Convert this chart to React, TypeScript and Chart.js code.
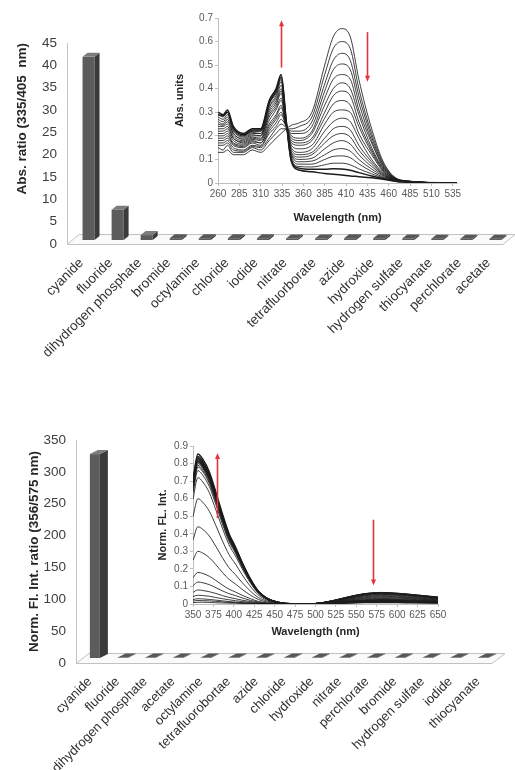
import React, { useEffect, useRef } from 'react';
import { Chart, registerables } from 'chart.js';

Chart.register(...registerables);

const FONT = "'Liberation Sans', Arial, Helvetica, sans-serif";

// ---------------- top panel : absorbance ratio ----------------
const absCategories = ['cyanide', 'fluoride', 'dihydrogen phosphate', 'bromide', 'octylamine', 'chloride', 'iodide', 'nitrate', 'tetrafluorborate', 'azide', 'hydroxide', 'hydrogen sulfate', 'thiocyanate', 'perchlorate', 'acetate'];
const absRatios = [41, 6.8, 1.1, 0.4, 0.4, 0.4, 0.4, 0.35, 0.35, 0.4, 0.4, 0.35, 0.3, 0.3, 0.3];
const absRatioTicks = [0, 5, 10, 15, 20, 25, 30, 35, 40, 45];

const uvWavelengths = [260, 266, 271, 278, 290, 300, 310, 320, 328, 334, 340, 346, 355, 370, 385, 395, 405, 415, 425, 440, 455, 475, 540];
const uvWavelengthTicks = [260, 285, 310, 335, 360, 385, 410, 435, 460, 485, 510, 535];
const uvAbsTicks = [0, 0.1, 0.2, 0.3, 0.4, 0.5, 0.6, 0.7];
const uvSpectra = [
  [0.13, 0.13, 0.14, 0.12, 0.12, 0.14, 0.13, 0.16, 0.19, 0.21, 0.23, 0.245, 0.255, 0.30, 0.50, 0.62, 0.655, 0.62, 0.44, 0.23, 0.08, 0.012, 0],
  [0.15, 0.14, 0.16, 0.13, 0.13, 0.15, 0.14, 0.18, 0.21, 0.23, 0.23, 0.23, 0.24, 0.28, 0.46, 0.57, 0.60, 0.57, 0.40, 0.21, 0.074, 0.011, 0],
  [0.16, 0.16, 0.17, 0.14, 0.135, 0.155, 0.15, 0.19, 0.23, 0.25, 0.235, 0.22, 0.22, 0.26, 0.42, 0.52, 0.55, 0.52, 0.37, 0.195, 0.069, 0.011, 0],
  [0.17, 0.17, 0.18, 0.15, 0.14, 0.16, 0.155, 0.21, 0.24, 0.27, 0.24, 0.21, 0.21, 0.24, 0.39, 0.48, 0.505, 0.48, 0.34, 0.18, 0.064, 0.010, 0],
  [0.18, 0.18, 0.19, 0.16, 0.15, 0.17, 0.16, 0.22, 0.255, 0.29, 0.24, 0.20, 0.19, 0.22, 0.36, 0.44, 0.46, 0.44, 0.31, 0.17, 0.060, 0.010, 0],
  [0.19, 0.19, 0.20, 0.165, 0.155, 0.175, 0.17, 0.23, 0.27, 0.30, 0.24, 0.19, 0.18, 0.21, 0.33, 0.40, 0.425, 0.40, 0.29, 0.15, 0.056, 0.009, 0],
  [0.20, 0.20, 0.21, 0.17, 0.16, 0.18, 0.17, 0.24, 0.28, 0.32, 0.24, 0.18, 0.17, 0.19, 0.30, 0.37, 0.39, 0.37, 0.26, 0.14, 0.052, 0.009, 0],
  [0.21, 0.21, 0.22, 0.18, 0.165, 0.185, 0.18, 0.25, 0.29, 0.33, 0.245, 0.17, 0.16, 0.18, 0.275, 0.335, 0.35, 0.33, 0.24, 0.13, 0.048, 0.009, 0],
  [0.22, 0.22, 0.23, 0.19, 0.17, 0.19, 0.185, 0.265, 0.31, 0.35, 0.25, 0.16, 0.145, 0.16, 0.25, 0.30, 0.31, 0.30, 0.21, 0.12, 0.044, 0.008, 0],
  [0.23, 0.23, 0.24, 0.19, 0.175, 0.195, 0.19, 0.28, 0.32, 0.36, 0.25, 0.15, 0.13, 0.145, 0.22, 0.26, 0.275, 0.26, 0.19, 0.10, 0.040, 0.008, 0],
  [0.24, 0.24, 0.25, 0.20, 0.18, 0.20, 0.20, 0.29, 0.33, 0.38, 0.25, 0.14, 0.12, 0.13, 0.19, 0.23, 0.24, 0.225, 0.16, 0.09, 0.036, 0.007, 0],
  [0.25, 0.245, 0.26, 0.21, 0.185, 0.205, 0.20, 0.30, 0.34, 0.39, 0.25, 0.13, 0.11, 0.12, 0.17, 0.20, 0.21, 0.195, 0.14, 0.08, 0.033, 0.007, 0],
  [0.26, 0.25, 0.27, 0.21, 0.19, 0.21, 0.21, 0.31, 0.35, 0.40, 0.25, 0.125, 0.10, 0.105, 0.145, 0.17, 0.18, 0.165, 0.12, 0.07, 0.030, 0.007, 0],
  [0.27, 0.26, 0.28, 0.22, 0.195, 0.215, 0.21, 0.32, 0.36, 0.415, 0.255, 0.12, 0.09, 0.093, 0.12, 0.14, 0.146, 0.135, 0.10, 0.059, 0.027, 0.006, 0],
  [0.28, 0.27, 0.29, 0.225, 0.20, 0.22, 0.22, 0.325, 0.37, 0.43, 0.255, 0.11, 0.08, 0.08, 0.10, 0.113, 0.115, 0.107, 0.081, 0.049, 0.023, 0.006, 0],
  [0.29, 0.28, 0.30, 0.23, 0.20, 0.22, 0.22, 0.335, 0.38, 0.44, 0.26, 0.10, 0.07, 0.068, 0.077, 0.084, 0.084, 0.077, 0.06, 0.039, 0.020, 0.006, 0],
  [0.29, 0.285, 0.30, 0.235, 0.205, 0.225, 0.225, 0.34, 0.39, 0.45, 0.26, 0.095, 0.063, 0.058, 0.058, 0.06, 0.059, 0.054, 0.044, 0.03, 0.018, 0.005, 0],
  [0.30, 0.29, 0.31, 0.24, 0.21, 0.23, 0.23, 0.35, 0.40, 0.46, 0.26, 0.09, 0.055, 0.048, 0.04, 0.037, 0.034, 0.03, 0.027, 0.022, 0.015, 0.005, 0],
];
const uvArrows = [
  { wavelength: 334, from: 0.49, to: 0.69 },
  { wavelength: 434, from: 0.64, to: 0.43 },
];

// ---------------- bottom panel : fluorescence ratio ----------------
const flCategories = ['cyanide', 'fluoride', 'dihydrogen phosphate', 'acetate', 'octylamine', 'tetrafluorobortae', 'azide', 'chloride', 'hydroxide', 'nitrate', 'perchlorate', 'bromide', 'hydrogen sulfate', 'iodide', 'thiocyanate'];
const flRatios = [320, 0.6, 0.6, 0.6, 0.6, 0.6, 0.6, 0.6, 0.6, 0.6, 0.6, 0.6, 0.6, 0.6, 0.6];
const flRatioTicks = [0, 50, 100, 150, 200, 250, 300, 350];

const flWavelengths = [350, 356, 362, 370, 378, 386, 394, 402, 410, 420, 430, 440, 455, 475, 500, 520, 540, 560, 580, 600, 625, 650];
const flWavelengthTicks = [350, 375, 400, 425, 450, 475, 500, 525, 550, 575, 600, 625, 650];
const flIntTicks = [0, 0.1, 0.2, 0.3, 0.4, 0.5, 0.6, 0.7, 0.8, 0.9];
const flSpectra = [
  [0.008, 0.01, 0.01, 0.009, 0.007, 0.006, 0.005, 0.004, 0.003, 0.002, 0.001, 0, 0, 0, 0.003, 0.018, 0.041, 0.059, 0.066, 0.062, 0.051, 0.04],
  [0.017, 0.02, 0.019, 0.018, 0.015, 0.012, 0.009, 0.008, 0.006, 0.003, 0.002, 0.001, 0, 0, 0.003, 0.018, 0.04, 0.059, 0.065, 0.061, 0.051, 0.039],
  [0.025, 0.03, 0.029, 0.026, 0.022, 0.018, 0.014, 0.011, 0.008, 0.005, 0.003, 0.001, 0, 0, 0.003, 0.018, 0.04, 0.058, 0.064, 0.06, 0.05, 0.038],
  [0.042, 0.05, 0.048, 0.044, 0.037, 0.03, 0.024, 0.019, 0.014, 0.009, 0.004, 0.002, 0.001, 0, 0.003, 0.018, 0.039, 0.057, 0.063, 0.059, 0.049, 0.038],
  [0.066, 0.08, 0.077, 0.07, 0.06, 0.048, 0.038, 0.03, 0.022, 0.014, 0.007, 0.003, 0.001, 0, 0.003, 0.017, 0.038, 0.056, 0.062, 0.058, 0.048, 0.037],
  [0.104, 0.125, 0.121, 0.11, 0.093, 0.075, 0.059, 0.048, 0.035, 0.021, 0.011, 0.005, 0.001, 0, 0.003, 0.017, 0.037, 0.054, 0.06, 0.056, 0.047, 0.036],
  [0.149, 0.18, 0.174, 0.158, 0.134, 0.108, 0.085, 0.068, 0.05, 0.031, 0.015, 0.007, 0.002, 0, 0.003, 0.016, 0.036, 0.052, 0.058, 0.055, 0.045, 0.035],
  [0.249, 0.30, 0.29, 0.264, 0.224, 0.18, 0.141, 0.114, 0.084, 0.051, 0.026, 0.012, 0.003, 0, 0.003, 0.015, 0.034, 0.05, 0.055, 0.052, 0.043, 0.033],
  [0.365, 0.44, 0.425, 0.387, 0.328, 0.264, 0.207, 0.167, 0.123, 0.075, 0.037, 0.018, 0.004, 0, 0.003, 0.015, 0.032, 0.047, 0.052, 0.049, 0.041, 0.031],
  [0.498, 0.60, 0.579, 0.528, 0.447, 0.36, 0.282, 0.228, 0.168, 0.102, 0.051, 0.024, 0.006, 0, 0.002, 0.013, 0.03, 0.043, 0.048, 0.045, 0.037, 0.029],
  [0.598, 0.72, 0.695, 0.634, 0.536, 0.432, 0.338, 0.274, 0.202, 0.122, 0.061, 0.029, 0.007, 0, 0.002, 0.012, 0.027, 0.04, 0.044, 0.041, 0.034, 0.026],
  [0.631, 0.76, 0.733, 0.669, 0.566, 0.456, 0.357, 0.289, 0.213, 0.129, 0.065, 0.03, 0.008, 0, 0.002, 0.011, 0.025, 0.036, 0.04, 0.038, 0.031, 0.024],
  [0.647, 0.78, 0.753, 0.686, 0.581, 0.468, 0.367, 0.296, 0.218, 0.133, 0.066, 0.031, 0.008, 0, 0.002, 0.01, 0.022, 0.032, 0.036, 0.034, 0.028, 0.022],
  [0.656, 0.79, 0.762, 0.695, 0.589, 0.474, 0.371, 0.30, 0.221, 0.134, 0.067, 0.032, 0.008, 0, 0.002, 0.009, 0.02, 0.029, 0.032, 0.03, 0.025, 0.019],
  [0.664, 0.80, 0.772, 0.704, 0.596, 0.48, 0.376, 0.304, 0.224, 0.136, 0.068, 0.032, 0.008, 0, 0.001, 0.008, 0.017, 0.025, 0.028, 0.026, 0.022, 0.017],
  [0.672, 0.81, 0.782, 0.713, 0.603, 0.486, 0.381, 0.308, 0.227, 0.138, 0.069, 0.032, 0.008, 0, 0.001, 0.007, 0.015, 0.022, 0.024, 0.023, 0.019, 0.014],
  [0.681, 0.82, 0.791, 0.722, 0.611, 0.492, 0.385, 0.312, 0.23, 0.139, 0.07, 0.033, 0.008, 0, 0.001, 0.006, 0.012, 0.018, 0.02, 0.019, 0.016, 0.012],
  [0.689, 0.83, 0.801, 0.73, 0.618, 0.498, 0.39, 0.315, 0.232, 0.141, 0.071, 0.033, 0.008, 0, 0.001, 0.004, 0.01, 0.014, 0.016, 0.015, 0.012, 0.01],
  [0.697, 0.84, 0.811, 0.739, 0.626, 0.504, 0.395, 0.319, 0.235, 0.143, 0.071, 0.034, 0.008, 0, 0.001, 0.003, 0.007, 0.011, 0.012, 0.011, 0.009, 0.007],
  [0.71, 0.855, 0.825, 0.752, 0.637, 0.513, 0.402, 0.325, 0.239, 0.145, 0.073, 0.034, 0.009, 0, 0, 0.003, 0.006, 0.008, 0.009, 0.008, 0.007, 0.005],
];
const flArrows = [
  { wavelength: 379, from: 0.49, to: 0.86 },
  { wavelength: 570, from: 0.48, to: 0.105 },
];

// ---------------- helpers ----------------
type Geom = { fdx: number; fdy: number; ox: number; oy: number; bw: number; bdx: number; bdy: number };

function make3DPlugin(g: Geom) {
  return {
    id: 'bars3d',
    beforeDatasetsDraw(chart: any) {
      const { ctx, chartArea: a } = chart;
      ctx.save();
      ctx.lineWidth = 1;
      ctx.strokeStyle = '#c2c2c2';
      ctx.fillStyle = '#fafafa';
      ctx.beginPath();
      ctx.moveTo(a.left, a.bottom + 0.5);
      ctx.lineTo(a.right, a.bottom + 0.5);
      ctx.lineTo(a.right + g.fdx, a.bottom + g.fdy + 0.5);
      ctx.lineTo(a.left + g.fdx, a.bottom + g.fdy + 0.5);
      ctx.closePath();
      ctx.fill();
      ctx.stroke();
      ctx.beginPath();
      ctx.moveTo(a.left + 0.5, a.top);
      ctx.lineTo(a.left + 0.5, a.bottom);
      ctx.stroke();
      ctx.restore();
    },
    afterDatasetsDraw(chart: any) {
      const { ctx } = chart;
      const xs = chart.scales.x;
      const ys = chart.scales.y;
      const values = chart.data.datasets[0].data as number[];
      const zero = ys.getPixelForValue(0);
      ctx.save();
      values.forEach((v, i) => {
        const cx = xs.getPixelForTick(i) + g.ox;
        const x0 = cx - g.bw / 2;
        const x1 = cx + g.bw / 2;
        const yb = zero + g.oy;
        const yt = ys.getPixelForValue(v) + g.oy;
        const tall = yb - yt > 3;
        ctx.fillStyle = '#5c5c5c';
        ctx.fillRect(x0, yt, g.bw, yb - yt);
        ctx.fillStyle = '#3a3a3a';
        ctx.beginPath();
        ctx.moveTo(x1, yb);
        ctx.lineTo(x1, yt);
        ctx.lineTo(x1 + g.bdx, yt + g.bdy);
        ctx.lineTo(x1 + g.bdx, yb + g.bdy);
        ctx.closePath();
        ctx.fill();
        ctx.fillStyle = tall ? '#7c7c7c' : '#585858';
        ctx.beginPath();
        ctx.moveTo(x0, yt);
        ctx.lineTo(x1, yt);
        ctx.lineTo(x1 + g.bdx, yt + g.bdy);
        ctx.lineTo(x0 + g.bdx, yt + g.bdy);
        ctx.closePath();
        ctx.fill();
      });
      ctx.restore();
    },
  };
}

function makeArrowPlugin(arrows: { wavelength: number; from: number; to: number }[]) {
  return {
    id: 'arrows',
    afterDatasetsDraw(chart: any) {
      const { ctx } = chart;
      const xs = chart.scales.x;
      const ys = chart.scales.y;
      ctx.save();
      ctx.strokeStyle = '#e2343c';
      ctx.fillStyle = '#e2343c';
      ctx.lineWidth = 1.6;
      arrows.forEach((a) => {
        const px = Math.round(xs.getPixelForValue(a.wavelength)) + 0.5;
        const y0 = ys.getPixelForValue(a.from);
        const y1 = ys.getPixelForValue(a.to);
        const dir = y1 < y0 ? -1 : 1;
        ctx.beginPath();
        ctx.moveTo(px, y0);
        ctx.lineTo(px, y1 - dir * 4);
        ctx.stroke();
        ctx.beginPath();
        ctx.moveTo(px, y1);
        ctx.lineTo(px - 2.5, y1 - dir * 6);
        ctx.lineTo(px + 2.5, y1 - dir * 6);
        ctx.closePath();
        ctx.fill();
      });
      ctx.restore();
    },
  };
}

function barConfig(o: {
  labels: string[]; values: number[]; yMax: number; yTicks: number[]; yTitle: string; yTitleAlign: string;
  yTitlePad: number; yWidth: number; xHeight: number; padding: any; labelSize: number; geom: Geom;
}) {
  return {
    type: 'bar',
    data: { labels: o.labels, datasets: [{ data: o.values, backgroundColor: 'rgba(0,0,0,0)', borderWidth: 0 }] },
    options: {
      animation: false,
      responsive: false,
      events: [],
      layout: { padding: o.padding },
      plugins: { legend: { display: false }, tooltip: { enabled: false } },
      scales: {
        x: {
          grid: { display: false, drawTicks: false },
          border: { display: false },
          ticks: { autoSkip: false, minRotation: 45, maxRotation: 45, padding: 11, color: '#303030', font: { family: FONT, size: o.labelSize } },
          afterFit: (s: any) => { s.height = o.xHeight; },
        },
        y: {
          min: 0,
          max: o.yMax,
          grid: { display: false, drawTicks: false },
          border: { display: false },
          afterBuildTicks: (s: any) => { s.ticks = o.yTicks.map((v) => ({ value: v })); },
          ticks: { padding: 10, color: '#404040', font: { family: FONT, size: 13.5 } },
          title: { display: true, text: o.yTitle, align: o.yTitleAlign, color: '#262626', font: { family: FONT, size: 13.5, weight: 'bold' }, padding: { top: o.yTitlePad, bottom: 0 } },
          afterFit: (s: any) => { s.width = o.yWidth; },
        },
      },
    },
    plugins: [make3DPlugin(o.geom)],
  };
}

function spectraConfig(o: {
  wl: number[]; spectra: number[][]; xMin: number; xMax: number; xTicks: number[]; yMax: number; yTicks: number[];
  yTitle: string; yTitlePad: number; yWidth: number; xHeight: number; xTitlePad: number; padding: any; thickFrom: number;
  arrows: { wavelength: number; from: number; to: number }[];
}) {
  const tickFont = { family: FONT, size: 10 };
  const titleFont = { family: FONT, size: 11, weight: 'bold' };
  return {
    type: 'line',
    data: {
      datasets: o.spectra.map((row, k) => ({
        data: row.map((v, i) => ({ x: o.wl[i], y: v })),
        borderColor: '#1c1c1c',
        borderWidth: k >= o.thickFrom ? 1.5 : 0.85,
        pointRadius: 0,
        cubicInterpolationMode: 'monotone',
        fill: false,
      })),
    },
    options: {
      animation: false,
      responsive: false,
      events: [],
      layout: { padding: o.padding },
      plugins: { legend: { display: false }, tooltip: { enabled: false } },
      scales: {
        x: {
          type: 'linear',
          min: o.xMin,
          max: o.xMax,
          afterBuildTicks: (s: any) => { s.ticks = o.xTicks.map((v) => ({ value: v })); },
          ticks: { autoSkip: false, maxRotation: 0, padding: 2, color: '#595959', font: tickFont, callback: (v: any) => String(v) },
          grid: { drawOnChartArea: false, tickLength: 3, color: '#bfbfbf' },
          border: { color: '#bfbfbf' },
          title: { display: true, text: 'Wavelength (nm)', color: '#262626', font: titleFont, padding: { top: 0, bottom: o.xTitlePad } },
          afterFit: (s: any) => { s.height = o.xHeight; },
        },
        y: {
          type: 'linear',
          min: 0,
          max: o.yMax,
          afterBuildTicks: (s: any) => { s.ticks = o.yTicks.map((v) => ({ value: v })); },
          ticks: { padding: 2, color: '#595959', font: tickFont, callback: (v: any) => (v === 0 ? '0' : Number(v).toFixed(1)) },
          grid: { drawOnChartArea: false, tickLength: 3, color: '#bfbfbf' },
          border: { color: '#bfbfbf' },
          title: { display: true, text: o.yTitle, color: '#262626', font: titleFont, padding: { top: o.yTitlePad, bottom: 0 } },
          afterFit: (s: any) => { s.width = o.yWidth; },
        },
      },
    },
    plugins: [makeArrowPlugin(o.arrows)],
  };
}

function ChartCanvas(props: { make: () => any; left: number; top: number; width: number; height: number }) {
  const ref = useRef<HTMLCanvasElement | null>(null);
  useEffect(() => {
    const chart = new Chart(ref.current as HTMLCanvasElement, props.make());
    return () => chart.destroy();
  }, []);
  return (
    <canvas
      ref={ref}
      width={props.width}
      height={props.height}
      style={{ position: 'absolute', left: props.left, top: props.top, width: props.width, height: props.height }}
    />
  );
}

export default function App() {
  return (
    <div style={{ position: 'absolute', left: 0, top: 0, width: 515, height: 770, background: '#ffffff', overflow: 'hidden' }}>
      <ChartCanvas
        left={0} top={0} width={515} height={365}
        make={() => barConfig({
          labels: absCategories, values: absRatios, yMax: 45, yTicks: absRatioTicks,
          yTitle: 'Abs. ratio (335/405  nm)', yTitleAlign: 'end', yTitlePad: 14, yWidth: 67, xHeight: 121,
          padding: { left: 0, right: 12, top: 43, bottom: 0 }, labelSize: 13.5,
          geom: { fdx: 12, fdy: -10, ox: 7, oy: -4, bw: 12, bdx: 5, bdy: -4 },
        })}
      />
      <ChartCanvas
        left={0} top={400} width={515} height={370}
        make={() => barConfig({
          labels: flCategories, values: flRatios, yMax: 350, yTicks: flRatioTicks,
          yTitle: 'Norm. Fl. Int. ratio (356/575 nm)', yTitleAlign: 'center', yTitlePad: 26, yWidth: 76, xHeight: 107,
          padding: { left: 0, right: 23, top: 40, bottom: 0 }, labelSize: 13,
          geom: { fdx: 13, fdy: -10, ox: 5, oy: -5, bw: 10, bdx: 8, bdy: -4 },
        })}
      />
      <ChartCanvas
        left={170} top={0} width={300} height={232}
        make={() => spectraConfig({
          wl: uvWavelengths, spectra: uvSpectra, xMin: 260, xMax: 540, xTicks: uvWavelengthTicks, yMax: 0.7, yTicks: uvAbsTicks,
          yTitle: 'Abs. units', yTitlePad: 3, yWidth: 48, xHeight: 49, xTitlePad: 7,
          padding: { left: 0, right: 13, top: 18, bottom: 0 }, thickFrom: 16, arrows: uvArrows,
        })}
      />
      <ChartCanvas
        left={140} top={425} width={315} height={222}
        make={() => spectraConfig({
          wl: flWavelengths, spectra: flSpectra, xMin: 350, xMax: 650, xTicks: flWavelengthTicks, yMax: 0.9, yTicks: flIntTicks,
          yTitle: 'Norm. FL. Int.', yTitlePad: 16, yWidth: 53, xHeight: 43, xTitlePad: 8,
          padding: { left: 0, right: 17, top: 21, bottom: 0 }, thickFrom: 15, arrows: flArrows,
        })}
      />
    </div>
  );
}
